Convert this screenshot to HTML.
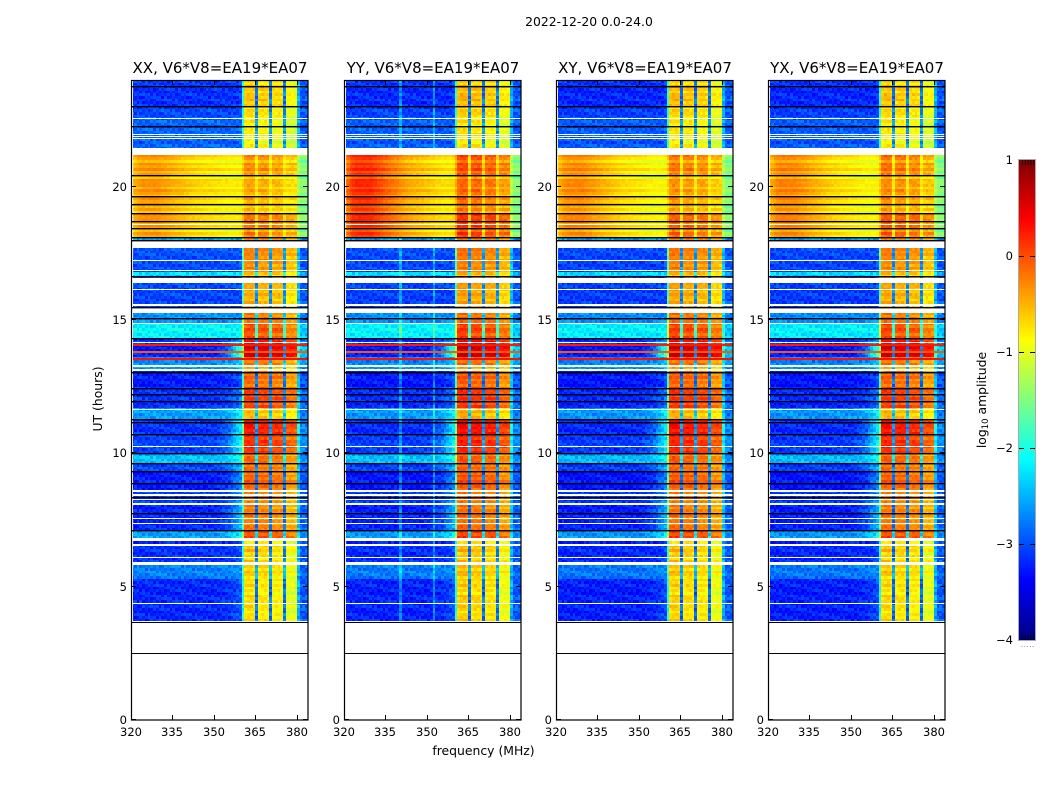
<!DOCTYPE html>
<html lang="en">
<head>
<meta charset="utf-8">
<title>2022-12-20 dynamic spectra</title>
<style>
html,body{margin:0;padding:0;background:#fff;}
svg{display:block;}
text{font-family:"DejaVu Sans","Liberation Sans",sans-serif;fill:#000;}
</style>
</head>
<body>
<svg id="fig" xmlns="http://www.w3.org/2000/svg" width="1050" height="800" viewBox="0 0 1050 800">
<rect x="0" y="0" width="1050" height="800" fill="#fff"/>
<text x="589" y="26" font-size="12.4" text-anchor="middle">2022-12-20 0.0-24.0</text>
<text x="483.5" y="755" font-size="12.4" text-anchor="middle">frequency (MHz)</text>
<text x="0" y="0" font-size="12.4" text-anchor="middle" transform="translate(102,399) rotate(-90)">UT (hours)</text>
<text x="0" y="0" font-size="12.4" text-anchor="middle" transform="translate(986,400) rotate(-90)">log<tspan font-size="8.5" dy="2">10</tspan><tspan dy="-2"> amplitude</tspan></text>
</svg>
<script>
// ---- panels ----
const panelTitles = ['XX, V6*V8=EA19*EA07','YY, V6*V8=EA19*EA07','XY, V6*V8=EA19*EA07','YX, V6*V8=EA19*EA07'];
const panelNames = ['xx','yy','xy','yx'];
const panelLoOffset = [0,-0.03,-0.05,-0.05];
const panelHotOffset = [0,0.08,0.05,0.02];
const panelHumpGain = [1,2.0,1.25,1.3];
const panelHotEraBoost = [0,0.25,0.05,0.12];
const panelSpikeChannels = [[],[20,32],[],[]];

// ---- axes tick labels ----
const freqTicks = [320,335,350,365,380];
const utTicks = [0,5,10,15,20];
const colorTicks = [1,0,-1,-2,-3,-4];

// ---- time eras: top edge (UT hours) and log10 amplitude levels ----
const eraTopUT = [24,23.78,23.03,22.58,21.45,21.19,20.4,19.61,18.98,18.11,17.7,16.8,16.58,16.39,15.45,15.26,14.89,14.33,14.06,13.58,13.31,13.05,12.45,11.66,11.29,10.73,10.01,9.64,9.34,8.63,8.14,7.13,6.83,5.81,5.33];
const eraLo = [-3.1,-3.15,-3.05,-2.9,-2.9,-0.85,-0.85,-0.85,-0.85,-2.6,-3.0,-2.3,-3.0,-3.05,-2.7,-2.65,-2.15,-3.15,-3.25,-2.7,-2.6,-3.25,-3.15,-2.6,-3.15,-3.05,-2.45,-3.05,-3.25,-3.1,-3.2,-2.6,-3.15,-2.75,-3.2];
const eraHot = [-0.85,-0.7,-0.85,-0.95,-0.9,-0.45,-0.6,-0.6,-0.35,-0.5,-0.4,-0.7,-0.6,-0.6,-0.3,-0.3,-0.1,0.2,0.5,-0.3,-0.55,-0.25,-0.05,-0.65,0.15,0.05,-0.25,-0.3,-0.2,-0.4,-0.35,-0.1,-0.75,-0.75,-0.85];
const eraTilt = [0,0,0,0,0,0,0,0,0,0,0,0,0,0,0,0,0,0.5,1.4,0.3,0.2,0.2,0.3,0.4,0.9,0.9,0.3,0.5,0.5,0.4,0.7,0.4,0.1,0.1,0.2];
const eraHump = [0,0,0,0,0,0.45,0.45,0.45,0.45,0,0,0,0,0,0,0,0,0,0,0,0,0,0,0,0,0,0,0,0,0,0,0,0,0,0];
const eraRight = [-2.95,-2.95,-2.95,-2.95,-2.95,-1.5,-1.5,-1.5,-1.5,-2.7,-2.95,-2.5,-2.95,-2.95,-2.8,-2.8,-2.4,-2.8,-2.4,-2.6,-2.7,-2.95,-2.85,-2.8,-2.7,-2.7,-2.7,-2.9,-2.95,-2.95,-2.9,-2.7,-2.95,-2.9,-2.95];

// ---- channel spectrum shape (64 channels, 1 MHz each) ----
const channelHotWeight = [0,0,0,0,0,0,0,0,0,0,0,0,0,0,0,0,0,0,0,0,0,0,0,0,0,0,0,0,0,0,0,0,0,0,0,0,0,0,0,0.03,0.5,1,1,1,1,0.15,1,1,1,1,0.15,1,1,1,1,0.15,1,1,1,1,0.2,0,0,0];
const channelHotOffset = [0,0,0,0,0,0,0,0,0,0,0,0,0,0,0,0,0,0,0,0,0,0,0,0,0,0,0,0,0,0,0,0,0,0,0,0,0,0,0,0,0,0.08,0.12,0.12,0.08,0,0.02,0.06,0.06,0.02,0,-0.03,0,0,-0.03,0,-0.2,-0.18,-0.18,-0.22,0,0,0,0];
const channelTilt = [0,0,0,0,0,0,0,0,0,0,0,0,0,0,0,0,0,0,0,0,0,0,0,0,0,0,0,0,0,0,0,0.05,0.1,0.15,0.25,0.35,0.5,0.7,0.85,0.95,0,0,0,0,0,0,0,0,0,0,0,0,0,0,0,0,0,0,0,0,0,0,0,0];
const channelHump = [0.5,0.7,0.85,0.95,1,1,1,1,1,1,0.95,0.9,0.85,0.8,0.75,0.7,0.65,0.6,0.55,0.5,0.45,0.4,0.35,0.3,0.3,0.25,0.25,0.2,0.2,0.15,0.15,0.1,0.1,0.05,0.05,0,0,0,0,0,0,0,0,0,0,0,0,0,0,0,0,0,0,0,0,0,0,0,0,0,0,0,0,0];

// ---- visual texture estimates ----
const rowTexture = [0.4,-0.5,0.7,0.1,-0.9,0.5,-0.2,0.8,-0.6,0.2,-1,0.6,0.3];
const cellTexture = [0.6,-0.8,0.2,1,-0.4,-1,0.5,0.1,-0.6,0.9,-0.2,0.7,-0.9,0.3,-0.1,0.8,-0.5];

// ---- flagged integrations (UT hours) ----
const blackFlagUT = [23.78,23.03,22.26,20.44,19.65,19.35,19.01,18.71,18.45,18.11,18,16.65,15.49,15.08,14.33,13.05,12.45,12.23,11.96,11.29,11.18,10.73,10.01,9.64,9.34,8.89,8.36,7.76,7.13];
const whiteFlagUT = [22.56,21.98,21.9,21.83,18.6,17.25,16.88,16.16,15.6,14.89,14.18,13.31,13.16,11.66,10.28,8.63,8.48,8.29,8.14,7.58,7.39,6.6,6.11,4.39];
const whiteThickFlagUT = [8.63,8.48,8.14,6.6,13.31,13.16,15.6];
const whiteBlockStartUT = [21.45,17.96,16.58,15.45,6.83,5.93];
const whiteBlockEndUT = [21.19,17.7,16.39,15.26,6.71,5.81];
const brightRowUT = [14.1,13.84,13.58];
const brightRowLevel = [0.25,-0.05,0.3];
const emptyLineUT = [3.67,2.5];

// ---- scales ----
const dataStartUT = 3.75;
const rowStep = 0.1;
const freqMin = 320, freqMax = 384, utMin = 0, utMax = 24;
const panelLeft = [131,344,556,768];
const panelWidth = 177, plotTop = 80, plotBottom = 720;
const cbarLeft = 1019, cbarRight = 1035, cbarTop = 160, cbarBottom = 640;
const cMin = -4, cMax = 1;

const NS = 'http://www.w3.org/2000/svg';
const fig = document.getElementById('fig');
function mk(tag, attrs, parent){
  const el = document.createElementNS(NS, tag);
  for (const k in attrs) el.setAttribute(k, attrs[k]);
  (parent || fig).appendChild(el);
  return el;
}
function xScale(p, mhz){ return panelLeft[p] + (mhz - freqMin) / (freqMax - freqMin) * panelWidth; }
function yScale(ut){ return plotBottom - (ut - utMin) / (utMax - utMin) * (plotBottom - plotTop); }
function cScale(v){ return cbarBottom - (v - cMin) / (cMax - cMin) * (cbarBottom - cbarTop); }
function clamp(v){ return Math.max(0, Math.min(1, v)); }
function jet(t){
  const r = clamp(1.5 - Math.abs(4*t - 3));
  const g = clamp(1.5 - Math.abs(4*t - 2));
  const b = clamp(1.5 - Math.abs(4*t - 1));
  return 'rgb(' + Math.round(r*255) + ',' + Math.round(g*255) + ',' + Math.round(b*255) + ')';
}
function eraOf(ut){
  let e = 0;
  for (let i = 0; i < eraTopUT.length; i++) { if (ut <= eraTopUT[i]) e = i; }
  return e;
}
function cellValue(p, r, c, e){
  const w = channelHotWeight[c];
  const hump = eraHump[e];
  const lo = eraLo[e] + panelLoOffset[p] + (hump > 0 && panelHotEraBoost[p] > 0.2 ? 0.1 : 0);
  const hot = eraHot[e] + panelHotOffset[p] + (hump > 0 ? panelHotEraBoost[p] : 0);
  let v = lo*(1-w) + (hot + channelHotOffset[c])*w;
  v += channelTilt[c]*eraTilt[e] + channelHump[c]*hump*panelHumpGain[p];
  if (c >= 61) v = eraRight[e];
  if (c === 60) v = eraRight[e]*(1-w) + hot*w;
  if (hump === 0 && panelSpikeChannels[p].indexOf(c) >= 0) v += 0.5;
  v += rowTexture[r % rowTexture.length] * (hump > 0 ? 0.2 : (w > 0.5 ? 0.14 : 0.06));
  const cellAmp = w > 0.5 ? 0.1 : (hump > 0 ? 0.04 : 0.2);
  v += cellTexture[(r*5 + c*3) % cellTexture.length] * cellAmp;
  return v;
}

const LEVELS = 80;
panelTitles.forEach(function(title, p){
  const name = panelNames[p];
  const g = mk('g', {});
  
  

  // heatmap cells bucketed by colour level
  const buckets = {};
  const nRows = Math.round((utMax - dataStartUT) / rowStep);
  const x0 = Math.round(xScale(p, freqMin)) + 2;
  const xEnd = Math.round(xScale(p, freqMax));
  for (let r = 0; r < nRows; r++) {
    const top = utMax - r*rowStep;
    const bot = top - rowStep;
    const e = eraOf((top + bot)/2);
    const y0 = Math.round(yScale(top));
    const y1 = Math.round(yScale(bot));
    for (let c = 0; c < 64; c++) {
      const a = Math.max(x0, Math.round(xScale(p, freqMin + c)));
      const b = Math.min(xEnd, Math.round(xScale(p, freqMin + c + 1)));
      if (b <= a || y1 <= y0) continue;
      const t = clamp((cellValue(p, r, c, e) - cMin)/(cMax - cMin));
      const lvl = Math.round(t*(LEVELS-1));
      (buckets[lvl] = buckets[lvl] || []).push('M'+a+' '+y0+'h'+(b-a)+'v'+(y1-y0)+'h'+(a-b)+'z');
    }
  }
  const heat = mk('g', {'shape-rendering':'crispEdges'}, g);
  
  
  Object.keys(buckets).forEach(function(lvl){
    const el = mk('path', {d: buckets[lvl].join(''), fill: jet(lvl/(LEVELS-1))}, heat);
    
    
  });

  // flagged rows
  const flags = mk('g', {'shape-rendering':'crispEdges'}, g);
  
  
  const L = panelLeft[p];
  whiteBlockStartUT.forEach(function(u, i){
    const y = Math.round(yScale(u));
    const el = mk('rect', {x:L, y:y, width:panelWidth, height:Math.round(yScale(whiteBlockEndUT[i]))-y, fill:'#fff'}, flags);
    
    
  });
  whiteFlagUT.forEach(function(u){
    const thick = whiteThickFlagUT.indexOf(u) >= 0 ? 2 : 1;
    const el = mk('rect', {x:L, y:Math.round(yScale(u)), width:panelWidth, height:thick, fill:'#fff'}, flags);
    
    
  });
  brightRowUT.forEach(function(u, i){
    const t = (brightRowLevel[i] - cMin)/(cMax - cMin);
    const el = mk('rect', {x:L+2, y:Math.round(yScale(u)), width:panelWidth-2, height:2, fill:jet(t)}, flags);
    
    
  });
  emptyLineUT.forEach(function(u){
    const el = mk('rect', {x:L, y:Math.round(yScale(u)), width:panelWidth, height:1, fill:'#000'}, flags);
    
    
  });
  const blacks = mk('g', {}, g);
  
  
  blackFlagUT.forEach(function(u){
    const el = mk('rect', {x:L, y:Math.round(yScale(u)), width:panelWidth, height:1.4, fill:'#000'}, blacks);
    
    
  });

  // frame
  const frame = mk('rect', {x:L+0.5, y:plotTop+0.5, width:panelWidth-0.5, height:plotBottom-plotTop-0.5, fill:'none', stroke:'#000', 'stroke-width':1.2}, g);
  
  

  // x ticks
  freqTicks.forEach(function(f){
    const x = Math.round(xScale(p, f)) + 0.5;
    const t1 = mk('line', {x1:x, x2:x, y1:plotBottom, y2:plotBottom-5, stroke:'#000', 'stroke-width':1}, g);
    
    
    const t2 = mk('line', {x1:x, x2:x, y1:plotTop, y2:plotTop+5, stroke:'#000', 'stroke-width':1}, g);
    
    
    const lb = mk('text', {x:x-0.5, y:736, 'font-size':11.5, 'text-anchor':'middle'}, g);
    
    
    lb.textContent = String(f);
  });
  // y ticks
  utTicks.forEach(function(u){
    const y = Math.round(yScale(u)) - 0.5;
    const t1 = mk('line', {x1:L, x2:L+5, y1:y, y2:y, stroke:'#000', 'stroke-width':1}, g);
    
    
    const t2 = mk('line', {x1:L+panelWidth, x2:L+panelWidth-5, y1:y, y2:y, stroke:'#000', 'stroke-width':1}, g);
    
    
    const lb = mk('text', {x:L-4, y:y+4.5, 'font-size':11.5, 'text-anchor':'end'}, g);
    
    
    lb.textContent = String(u);
  });
  const tt = mk('text', {x:L+panelWidth/2+0.5, y:73, 'font-size':15, 'text-anchor':'middle'}, g);
  
  
  tt.textContent = title;
});

// ---- colorbar ----
const cb = mk('g', {});


const cbSteps = mk('g', {'shape-rendering':'crispEdges'}, cb);


for (let y = cbarTop; y < cbarBottom; y += 2) {
  const v = cMax - (y + 1 - cbarTop)/(cbarBottom - cbarTop)*(cMax - cMin);
  const el = mk('rect', {x:cbarLeft, y:y, width:cbarRight-cbarLeft, height:2, fill:jet((v-cMin)/(cMax-cMin))}, cbSteps);
  
  
}
const cbFrame = mk('rect', {x:cbarLeft-0.5, y:cbarTop-0.5, width:cbarRight-cbarLeft+1, height:cbarBottom-cbarTop+1, fill:'none', stroke:'#aaa', 'stroke-width':1}, cb);


colorTicks.forEach(function(v){
  const y = Math.round(cScale(v));
  if (v !== cMax && v !== cMin) {
    const a = mk('line', {x1:cbarLeft, x2:cbarLeft+5, y1:y+0.5, y2:y+0.5, stroke:'#000', 'stroke-width':1}, cb);
    
    
    const b = mk('line', {x1:cbarRight-5, x2:cbarRight, y1:y+0.5, y2:y+0.5, stroke:'#000', 'stroke-width':1}, cb);
    
    
  }
  const lb = mk('text', {x:1013, y:y+4, 'font-size':11.5, 'text-anchor':'end'}, cb);
  
  
  lb.textContent = (v < 0 ? '\u2212' + Math.abs(v) : String(v));
});
[0,1,2,3,4].forEach(function(i){
  const x = cbarLeft + 3.5 + i*2.8;
  const a = mk('line', {x1:x, x2:x, y1:cbarTop, y2:cbarTop+5, stroke:'#000', 'stroke-width':0.8}, cb);
  
  
  const b = mk('line', {x1:x, x2:x, y1:cbarBottom-5, y2:cbarBottom, stroke:'#000', 'stroke-width':0.8}, cb);
  
  
  const d = mk('rect', {x:x-1, y:646, width:1, height:1, fill:'#999'}, cb);
  
  
});
</script>
</body>
</html>
